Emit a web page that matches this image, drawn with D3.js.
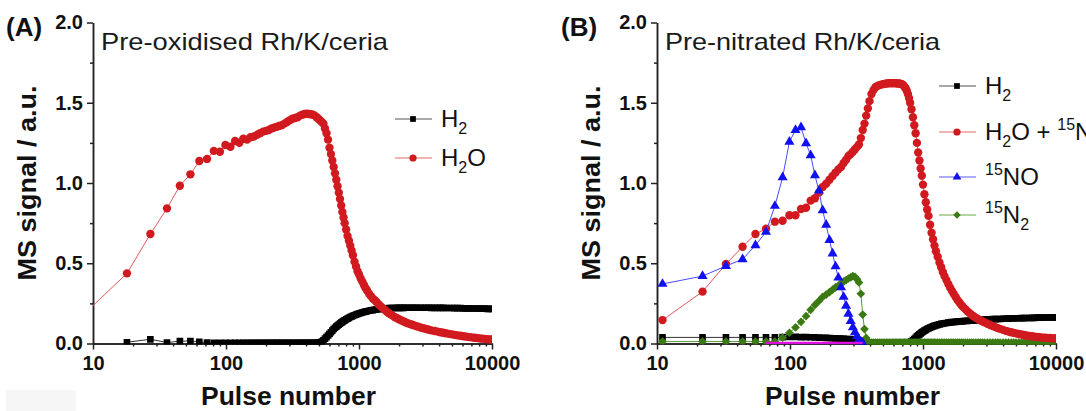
<!DOCTYPE html>
<html>
<head>
<meta charset="utf-8">
<style>
  body { margin: 0; background: #fff; overflow: hidden; }
  svg { display: block; font-family: "Liberation Sans", Arial, sans-serif; }
  .tick text { font-size: 20px; font-weight: bold; fill: #111; font-family: "Liberation Sans", Arial, sans-serif; }
  .tick line, .domain { stroke: #222; stroke-width: 1.5px; }
  .axis-title { font-weight: bold; fill: #111; }
  .legend text { fill: #111; }
</style>
<script src="https://cdn.jsdelivr.net/npm/d3@7"></script>
</head>
<body>
<script>
// ---- panel A: pre-oxidised ----
const pulsesA = [
  9, 18, 27, 36, 45, 54, 63, 72, 81, 90,
  99, 108, 117, 126, 135, 144, 153, 162, 171, 180,
  190, 200, 210, 220, 230, 240, 250, 262, 275, 288,
  300, 315, 330, 345, 360, 375, 390, 405, 420, 435,
  450, 465, 480, 495, 510, 525, 540, 555, 570, 585,
  600, 615, 630, 645, 660, 675, 690, 705, 720, 735,
  750, 765, 780, 800, 820, 840, 860, 880, 900, 925,
  950, 975, 1000, 1030, 1060, 1090, 1120, 1150, 1190, 1230,
  1270, 1310, 1350, 1400, 1450, 1500, 1560, 1620, 1680, 1740,
  1800, 1870, 1940, 2010, 2090, 2170, 2250, 2350, 2450, 2550,
  2650, 2750, 2900, 3050, 3200, 3350, 3500, 3700, 3900, 4100,
  4300, 4500, 4750, 5000, 5250, 5500, 5800, 6100, 6400, 6700,
  7000, 7350, 7700, 8050, 8400, 8800, 9200, 9600, 10000
];
const h2oA = [
  0.20, 0.437, 0.682, 0.842, 0.983, 1.054, 1.137, 1.15, 1.20, 1.195,
  1.237, 1.226, 1.262, 1.251, 1.276, 1.27, 1.285, 1.29, 1.30, 1.31,
  1.32, 1.325, 1.33, 1.34, 1.345, 1.35, 1.355, 1.36, 1.37, 1.38,
  1.39, 1.40, 1.405, 1.41, 1.42, 1.425, 1.43, 1.432, 1.43, 1.428,
  1.425, 1.42, 1.41, 1.40, 1.39, 1.38, 1.37, 1.34, 1.31, 1.27,
  1.22, 1.18, 1.14, 1.10, 1.06, 1.02, 0.98, 0.94, 0.90, 0.86,
  0.82, 0.785, 0.75, 0.71, 0.67, 0.64, 0.61, 0.58, 0.55, 0.51,
  0.48, 0.45, 0.43, 0.405, 0.385, 0.365, 0.345, 0.33, 0.31, 0.295,
  0.28, 0.27, 0.26, 0.245, 0.233, 0.222, 0.21, 0.198, 0.188, 0.18,
  0.172, 0.164, 0.157, 0.15, 0.143, 0.137, 0.131, 0.125, 0.12, 0.115,
  0.11, 0.106, 0.1, 0.095, 0.09, 0.086, 0.082, 0.078, 0.074, 0.07,
  0.067, 0.064, 0.06, 0.057, 0.054, 0.051, 0.048, 0.045, 0.043, 0.04,
  0.038, 0.036, 0.034, 0.032, 0.03, 0.029, 0.027, 0.026, 0.025
];
const h2A = [
  null, 0.008, 0.026, 0.006, 0.015, 0.015, 0.01, 0.006, 0.005, 0.005,
  0.005, 0.005, 0.005, 0.005, 0.005, 0.005, 0.005, 0.005, 0.005, 0.005,
  0.005, 0.005, 0.005, 0.005, 0.005, 0.005, 0.005, 0.005, 0.005, 0.005,
  0.005, 0.005, 0.005, 0.005, 0.005, 0.005, 0.005, 0.005, 0.005, 0.005,
  0.005, 0.005, 0.005, 0.006, 0.008, 0.012, 0.02, 0.03, 0.04, 0.05,
  0.06, 0.07, 0.08, 0.09, 0.098, 0.105, 0.112, 0.118, 0.124, 0.13,
  0.135, 0.14, 0.144, 0.15, 0.155, 0.16, 0.165, 0.168, 0.172, 0.176,
  0.18, 0.184, 0.187, 0.19, 0.193, 0.196, 0.199, 0.201, 0.204, 0.206,
  0.208, 0.21, 0.212, 0.214, 0.215, 0.217, 0.218, 0.219, 0.22, 0.221,
  0.221, 0.221, 0.222, 0.222, 0.222, 0.222, 0.223, 0.223, 0.223, 0.223,
  0.223, 0.223, 0.223, 0.223, 0.223, 0.223, 0.222, 0.222, 0.222, 0.222,
  0.222, 0.221, 0.221, 0.221, 0.22, 0.22, 0.22, 0.219, 0.219, 0.219,
  0.218, 0.218, 0.218, 0.217, 0.217, 0.217, 0.216, 0.216, 0.216
];

// ---- panel B: pre-nitrated ----
const pulsesB = [
  11, 22, 33, 44, 55, 66, 77, 88, 99, 110,
  121, 132, 143, 154, 165, 176, 187, 198, 209, 220,
  231, 242, 253, 264, 275, 286, 297, 308, 319, 330,
  341, 352, 363, 374, 385, 396, 410, 425, 440, 455,
  470, 485, 500, 515, 530, 545, 560, 575, 590, 605,
  620, 635, 650, 665, 680, 695, 710, 725, 740, 755,
  770, 785, 800, 820, 840, 860, 880, 900, 920, 940,
  960, 980, 1000, 1025, 1050, 1075, 1100, 1130, 1160, 1190,
  1220, 1250, 1290, 1330, 1370, 1410, 1450, 1500, 1550, 1600,
  1650, 1700, 1760, 1820, 1880, 1940, 2000, 2080, 2160, 2240,
  2320, 2400, 2500, 2600, 2700, 2800, 2900, 3050, 3200, 3350,
  3500, 3650, 3800, 4000, 4200, 4400, 4600, 4800, 5000, 5250,
  5500, 5750, 6000, 6300, 6600, 6900, 7200, 7550, 7900, 8250,
  8600, 9000, 9400, 9800, 10000
];
const h2oB = [
  0.146, 0.323, 0.495, 0.603, 0.682, 0.715, 0.759, 0.765, 0.799, 0.799,
  0.838, 0.846, 0.89, 0.905, 0.94, 0.975, 0.995, 1.02, 1.044, 1.065,
  1.085, 1.10, 1.125, 1.145, 1.168, 1.18, 1.195, 1.21, 1.225, 1.24,
  1.28, 1.33, 1.37, 1.42, 1.465, 1.51, 1.555, 1.58, 1.598, 1.605,
  1.61, 1.613, 1.616, 1.618, 1.62, 1.621, 1.622, 1.622, 1.622, 1.622,
  1.622, 1.621, 1.62, 1.62, 1.618, 1.615, 1.61, 1.60, 1.59, 1.575,
  1.555, 1.53, 1.50, 1.46, 1.41, 1.36, 1.31, 1.25, 1.19, 1.14,
  1.09, 1.045, 0.99, 0.93, 0.88, 0.835, 0.795, 0.74, 0.69, 0.65,
  0.61, 0.575, 0.54, 0.505, 0.475, 0.445, 0.42, 0.395, 0.37, 0.348,
  0.328, 0.31, 0.29, 0.27, 0.255, 0.24, 0.228, 0.214, 0.2, 0.189,
  0.178, 0.17, 0.16, 0.152, 0.145, 0.138, 0.132, 0.123, 0.115, 0.108,
  0.102, 0.096, 0.091, 0.085, 0.079, 0.074, 0.07, 0.066, 0.063, 0.059,
  0.056, 0.053, 0.05, 0.047, 0.045, 0.043, 0.041, 0.039, 0.037, 0.036,
  0.035, 0.034, 0.033, 0.032, 0.032
];
const h2B = [
  0.038, 0.038, 0.038, 0.038, 0.038, 0.038, 0.038, 0.04, 0.041, 0.041,
  0.04, 0.04, 0.039, 0.038, 0.037, 0.036, 0.035, 0.034, 0.033, 0.032,
  0.031, 0.03, 0.029, 0.028, 0.027, 0.026, 0.025, 0.023, 0.021, 0.019,
  0.016, 0.012, 0.01, 0.008, 0.007, 0.006, 0.005, 0.005, 0.005, 0.005,
  0.005, 0.005, 0.005, 0.005, 0.005, 0.005, 0.005, 0.005, 0.005, 0.005,
  0.005, 0.005, 0.005, 0.005, 0.005, 0.005, 0.005, 0.005, 0.005, 0.005,
  0.005, 0.005, 0.008, 0.013, 0.02, 0.028, 0.036, 0.044, 0.051, 0.057,
  0.063, 0.069, 0.074, 0.08, 0.085, 0.09, 0.094, 0.099, 0.103, 0.107,
  0.11, 0.113, 0.116, 0.119, 0.122, 0.124, 0.126, 0.128, 0.13, 0.132,
  0.133, 0.134, 0.135, 0.136, 0.137, 0.138, 0.139, 0.14, 0.141, 0.142,
  0.143, 0.144, 0.145, 0.146, 0.147, 0.148, 0.149, 0.15, 0.151, 0.152,
  0.152, 0.153, 0.153, 0.154, 0.155, 0.155, 0.156, 0.156, 0.157, 0.157,
  0.158, 0.158, 0.159, 0.159, 0.16, 0.16, 0.161, 0.161, 0.161, 0.162,
  0.162, 0.162, 0.163, 0.163, 0.163
];
const noB = [
  0.371, 0.42, 0.483, 0.525, 0.612, 0.695, 0.857, 1.035, 1.257, 1.33,
  1.347, 1.247, 1.173, 1.048, 0.952, 0.83, 0.74, 0.645, 0.56, 0.48,
  0.41, 0.35, 0.29, 0.235, 0.185, 0.14, 0.10, 0.07, 0.045, 0.025,
  0.01, 0.003
];
const n2B = [
  0.012, 0.012, 0.012, 0.012, 0.012, 0.012, 0.012, 0.036, 0.067, 0.10,
  0.135, 0.17, 0.21, 0.24, 0.265, 0.29, 0.305, 0.32, 0.335, 0.35,
  0.36, 0.372, 0.385, 0.395, 0.405, 0.412, 0.42, 0.415, 0.40, 0.38,
  0.31, 0.18, 0.09, 0.035, 0.012, 0.006, 0.005, 0.005, 0.005, 0.005,
  0.005, 0.005, 0.005, 0.005, 0.005, 0.005, 0.005, 0.005, 0.005, 0.005,
  0.005, 0.005, 0.005, 0.005, 0.005, 0.005, 0.005, 0.005, 0.005, 0.005,
  0.005, 0.005, 0.005, 0.005, 0.005, 0.005, 0.005, 0.005, 0.005, 0.005,
  0.005, 0.005, 0.005, 0.005, 0.005, 0.005, 0.005, 0.005, 0.005, 0.005,
  0.005, 0.005, 0.005, 0.005, 0.005, 0.005, 0.005, 0.005, 0.005, 0.005,
  0.005, 0.005, 0.005, 0.005, 0.005, 0.005, 0.005, 0.005, 0.005, 0.005,
  0.005, 0.005, 0.005, 0.005, 0.005, 0.005, 0.005, 0.005, 0.005, 0.005,
  0.005, 0.005, 0.005, 0.005, 0.005, 0.005, 0.005, 0.005, 0.005, 0.005,
  0.005, 0.005, 0.005, 0.005, 0.005, 0.005, 0.005, 0.005, 0.005, 0.005,
  0.005, 0.005, 0.005, 0.005, 0.005
];
// thin magenta trace lying on the baseline
const pinkB = [
  null, null, null, null, null, 0.003, 0.003, 0.003, 0.003, 0.003,
  0.003, 0.003, 0.003, 0.003, 0.003, 0.003, 0.003, 0.003, 0.003, 0.003,
  0.003, 0.003, 0.003, 0.003, 0.003, 0.003, 0.003, 0.003, 0.003, 0.003,
  0.003, 0.003
];

const xMajor = [10, 100, 1000, 10000];
const yMajor = [0, 0.5, 1.0, 1.5, 2.0];
const yMinor = [0.25, 0.75, 1.25, 1.75];

const RED = '#d11a1f', BLUE = '#1010f0', GREEN = '#3b7a12', BLACK = '#000', PINK = '#dd11dd';

const width = 1086, height = 411;
const svg = d3.select('body').append('svg')
    .attr('width', width).attr('height', height);

// faint patch in the scan, lower left
svg.append('rect').attr('x', 6).attr('y', 390).attr('width', 70).attr('height', 21).attr('fill', '#f6f6f6');

const yTop = 22.5, yBottom = 343.5;

function drawPanel(p) {
    const x = d3.scaleLog().domain([10, 10000]).range([p.x0, p.x1]);
    const y = d3.scaleLinear().domain([0, 2]).range([yBottom, yTop]);
    const g = svg.append('g');

    g.append('clipPath').attr('id', 'clip' + p.id)
      .append('rect').attr('x', p.x0).attr('y', yTop - 5)
      .attr('width', p.x1 - p.x0).attr('height', yBottom - yTop + 6);

    // axes
    const minorX = x.ticks().filter(d => !xMajor.includes(d));
    g.append('g').attr('transform', `translate(0,${yBottom})`)
        .call(d3.axisBottom(x).tickValues(minorX).tickSize(3).tickSizeOuter(0).tickFormat(''));
    g.append('g').attr('transform', `translate(0,${yBottom})`)
        .call(d3.axisBottom(x).tickValues(xMajor).tickSize(6).tickPadding(6).tickSizeOuter(0).tickFormat(d3.format('d')));
    g.append('g').attr('transform', `translate(${p.x0},0)`)
        .call(d3.axisLeft(y).tickValues(yMinor).tickSize(3).tickSizeOuter(0).tickFormat(''));
    g.append('g').attr('transform', `translate(${p.x0},0)`)
        .call(d3.axisLeft(y).tickValues(yMajor).tickSize(6).tickPadding(4).tickSizeOuter(0).tickFormat(d3.format('.1f')));

    // series
    const plot = g.append('g').attr('clip-path', `url(#clip${p.id})`);
    p.series.forEach(s => {
        const pts = p.pulses.map((d, i) => [d, s.values[i]]).filter(d => d[1] != null);
        const line = d3.line().x(d => x(d[0])).y(d => y(d[1]));
        plot.append('path').attr('d', line(pts))
            .attr('fill', 'none').attr('stroke', s.lineColor || s.color)
            .attr('stroke-width', s.lineWidth || 1);
        if (!s.symbol) return;
        const sym = d3.symbol().type(s.symbol).size(s.size);
        plot.append('g').selectAll('path').data(pts).join('path')
            .attr('d', sym)
            .attr('transform', d => `translate(${x(d[0])},${y(d[1])})` + (s.rotate ? ` rotate(${s.rotate})` : ''))
            .attr('fill', s.color);
    });

    // labels
    svg.append('text').attr('x', p.letterX).attr('y', 36)
        .attr('font-size', 26).attr('font-weight', 'bold').attr('fill', '#111').text(p.letter);
    svg.append('text').attr('x', p.x0 + 8).attr('y', 50)
        .attr('font-size', 24).attr('fill', '#1a1a1a')
        .attr('textLength', p.titleLen).attr('lengthAdjust', 'spacingAndGlyphs').text(p.title);
    svg.append('text').attr('class', 'axis-title')
        .attr('transform', `translate(${p.x0 - 66},${(yTop + yBottom) / 2}) rotate(-90)`)
        .attr('text-anchor', 'middle').attr('dy', '0.35em').attr('font-size', 25)
        .attr('textLength', 195).attr('lengthAdjust', 'spacingAndGlyphs')
        .text('MS signal / a.u.');
    svg.append('text').attr('class', 'axis-title')
        .attr('x', (p.x0 + p.x1) / 2 - 4).attr('y', 405)
        .attr('text-anchor', 'middle').attr('font-size', 25)
        .attr('textLength', 175).attr('lengthAdjust', 'spacingAndGlyphs')
        .text('Pulse number');

    // legend
    const lg = svg.append('g').attr('class', 'legend');
    p.legend.forEach(item => {
        const s = p.series[item.series];
        lg.append('line').attr('x1', p.legX).attr('x2', p.legX + 37)
            .attr('y1', item.y).attr('y2', item.y)
            .attr('stroke', s.legendLine).attr('stroke-width', 1.2);
        lg.append('path').attr('d', d3.symbol().type(s.symbol).size(s.size * 0.75))
            .attr('transform', `translate(${p.legX + 18},${item.y})` + (s.rotate ? ` rotate(${s.rotate})` : ''))
            .attr('fill', s.color);
        const t = lg.append('text').attr('x', p.legX + 46).attr('y', item.y + 8);
        let shift = 0;
        item.parts.forEach(([str, kind]) => {
            const target = kind === 'sub' ? 7 : kind === 'sup' ? -10 : 0;
            t.append('tspan').attr('dy', target - shift)
                .attr('font-size', kind ? 16 : 24).text(str);
            shift = target;
        });
    });
}

drawPanel({
    id: 'A', x0: 93, x1: 492, letter: '(A)', letterX: 6,
    title: 'Pre-oxidised Rh/K/ceria', titleLen: 287,
    pulses: pulsesA, legX: 395,
    series: [
        { values: h2A, color: BLACK, lineColor: '#333', symbol: d3.symbolSquare, size: 44, legendLine: '#555' },
        { values: h2oA, color: RED, lineColor: '#e2585b', symbol: d3.symbolCircle, size: 55, legendLine: '#e06a6a' }
    ],
    legend: [
        { series: 0, y: 119, parts: [['H'], ['2', 'sub']] },
        { series: 1, y: 158, parts: [['H'], ['2', 'sub'], ['O']] }
    ]
});

drawPanel({
    id: 'B', x0: 657, x1: 1056, letter: '(B)', letterX: 561,
    title: 'Pre-nitrated Rh/K/ceria', titleLen: 275,
    pulses: pulsesB, legX: 939,
    series: [
        { values: h2B, color: BLACK, lineColor: '#333', symbol: d3.symbolSquare, size: 44, legendLine: '#555' },
        { values: n2B, color: GREEN, lineColor: '#5a9a30', symbol: d3.symbolSquare, size: 38, rotate: 45, legendLine: '#6aaa44' },
        { values: h2oB, color: RED, lineColor: '#e2585b', symbol: d3.symbolCircle, size: 55, legendLine: '#e06a6a' },
        { values: noB, color: BLUE, lineColor: '#4a4aff', symbol: d3.symbolTriangle, size: 44, legendLine: '#5a5aff' },
        { values: pinkB, color: PINK, lineWidth: 2.5 }
    ],
    legend: [
        { series: 0, y: 86, parts: [['H'], ['2', 'sub']] },
        { series: 2, y: 132, parts: [['H'], ['2', 'sub'], ['O + '], ['15', 'sup'], ['NH'], ['3', 'sub']] },
        { series: 3, y: 177, parts: [['15', 'sup'], ['NO']] },
        { series: 1, y: 215, parts: [['15', 'sup'], ['N'], ['2', 'sub']] }
    ]
});
</script>
</body>
</html>
